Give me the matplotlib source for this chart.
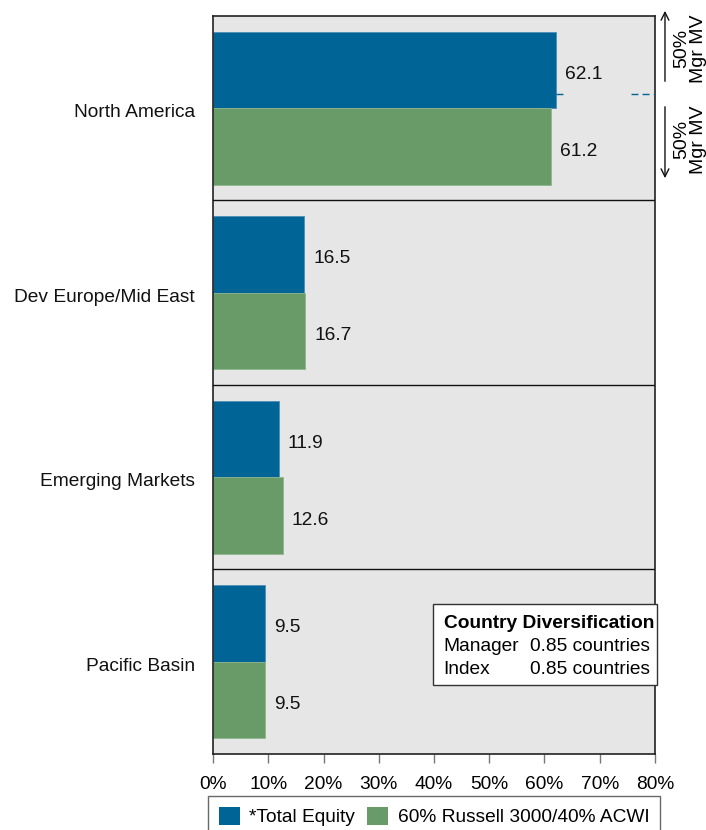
import matplotlib

matplotlib.use("Agg")
import matplotlib.pyplot as plt
import matplotlib.transforms as mtransforms
import numpy as np
from matplotlib.patches import Patch, Rectangle

plt.rcParams["font.family"] = ["Liberation Sans", "DejaVu Sans"]
plt.rcParams["font.size"] = 13.8

regions = ["North America", "Dev Europe/Mid East", "Emerging Markets", "Pacific Basin"]
manager = [62.1, 16.5, 11.9, 9.5]
index = [61.2, 16.7, 12.6, 9.5]
series_names = ["*Total Equity", "60% Russell 3000/40% ACWI"]
x_ticks = [0, 10, 20, 30, 40, 50, 60, 70, 80]
div_rows = [("Manager", "0.85 countries"), ("Index", "0.85 countries")]
mgr_split_label = "50%\nMgr MV"

blue = "#006496"
green = "#699b69"
panel = "#e6e6e6"
fs = 13.8

fig = plt.figure(figsize=(7.06, 8.30), dpi=100)
ax = fig.add_axes([213 / 706, 1 - 754 / 830, 442 / 706, 738 / 830])
ax.set_facecolor(panel)
# text in the original sits a few pixels below the bar centres
shift_down = mtransforms.ScaledTranslation(0, -0.045, fig.dpi_scale_trans)
label_shift = mtransforms.ScaledTranslation(-0.18, -0.045, fig.dpi_scale_trans)

y = np.arange(len(regions))
h = 0.415
ax.barh(y - h / 2, manager, height=h, color=blue, edgecolor="#4d8fb8", linewidth=0.6, zorder=2)
ax.barh(y + h / 2, index, height=h, color=green, edgecolor="#8db58d", linewidth=0.6, zorder=2)

for yi, m, n in zip(y, manager, index):
    ax.text(m + 1.6, yi - h / 2, f"{m:.1f}", va="center", ha="left", fontsize=fs, color="#111111",
            transform=ax.transData + shift_down)
    ax.text(n + 1.6, yi + h / 2, f"{n:.1f}", va="center", ha="left", fontsize=fs, color="#111111",
            transform=ax.transData + shift_down)

# category labels drawn as text so they can sit slightly low, like the original
for yi, name in zip(y, regions):
    ax.text(0, yi, name, ha="right", va="center", fontsize=fs, color="#111111",
            transform=ax.get_yaxis_transform() + label_shift, clip_on=False)

for sep in y[:-1] + 0.5:
    ax.axhline(sep, color="#111111", linewidth=1.0, zorder=3)

# 50% manager MV marker on the first region
split_y = -0.077
dash = dict(color=blue, linewidth=1.0, linestyle=(0, (5, 3)), zorder=3)
ax.plot([manager[0], manager[0] + 1.7], [split_y, split_y], **dash)
ax.plot([75.6, 80], [split_y, split_y], **dash)

arrow = dict(arrowstyle="->", color="#111111", linewidth=1.0, mutation_scale=14)
ax.annotate("", xy=(1.0226, -0.543), xytext=(1.0226, -0.131),
            xycoords=("axes fraction", "data"), arrowprops=arrow, annotation_clip=False)
ax.annotate("", xy=(1.0226, 0.394), xytext=(1.0226, -0.023),
            xycoords=("axes fraction", "data"), arrowprops=arrow, annotation_clip=False)
ax.text(1.080, -0.325, mgr_split_label, transform=ax.get_yaxis_transform(), rotation=90,
        ha="center", va="center", fontsize=14, linespacing=0.95, clip_on=False)
ax.text(1.080, 0.17, mgr_split_label, transform=ax.get_yaxis_transform(), rotation=90,
        ha="center", va="center", fontsize=14, linespacing=0.95, clip_on=False)

ax.set_xlim(0, 80)
ax.set_ylim(len(regions) - 0.5, -0.5)
ax.set_xticks(x_ticks)
ax.set_xticklabels([f"{t}%" for t in x_ticks])
ax.set_yticks([])
ax.tick_params(axis="x", direction="out", length=6.5, width=1.0, color="#777777", pad=9.5)
for side in ["top", "right", "bottom", "left"]:
    ax.spines[side].set_color("#222222")
    ax.spines[side].set_linewidth(1.2)

# country diversification box
bx0, by0, bw, bh = 0.498, 0.0935, 0.507, 0.1095
ax.add_patch(Rectangle((bx0, by0), bw, bh, transform=ax.transAxes, facecolor="white",
                       edgecolor="#333333", linewidth=1.0, zorder=5, clip_on=False))
ax.text(bx0 + 0.024, by0 + bh - 0.026, "Country Diversification", transform=ax.transAxes,
        fontsize=fs, fontweight="bold", va="center", ha="left", zorder=6)
for i, (who, val) in enumerate(div_rows):
    yy = by0 + bh - 0.057 - i * 0.031
    ax.text(bx0 + 0.024, yy, who, transform=ax.transAxes, fontsize=fs, va="center", ha="left", zorder=6)
    ax.text(bx0 + 0.219, yy, val, transform=ax.transAxes, fontsize=fs, va="center", ha="left", zorder=6)

handles = [Patch(facecolor=blue, edgecolor="none"), Patch(facecolor=green, edgecolor="none")]
fig.legend(handles, series_names, loc="upper center", bbox_to_anchor=(434 / 706, 1 - 796 / 830),
           ncol=2, frameon=True, fancybox=False, edgecolor="#444444", fontsize=fs,
           handlelength=1.1, handleheight=1.1, handletextpad=0.5, columnspacing=0.6,
           borderpad=0.55, borderaxespad=0)

fig.savefig("out.png", dpi=100)
